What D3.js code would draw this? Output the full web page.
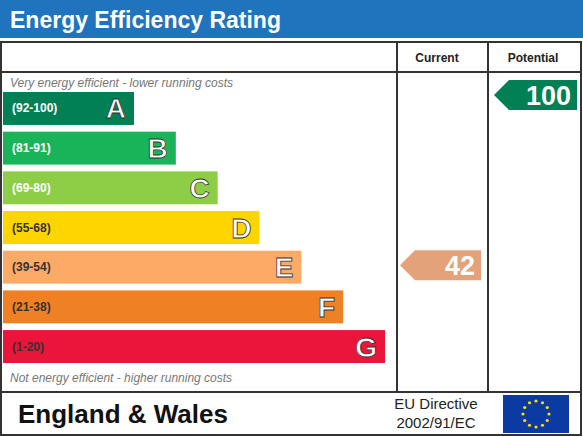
<!DOCTYPE html>
<html><head><meta charset="utf-8">
<script src="https://cdn.jsdelivr.net/npm/d3@7"></script>
<style>body{margin:0;background:#fff}svg{display:block}</style>
</head><body><div id="chart"></div>
<script>
// DATA
const bands = ['A', 'B', 'C', 'D', 'E', 'F', 'G'];
const ranges = ['(92-100)', '(81-91)', '(69-80)', '(55-68)', '(39-54)', '(21-38)', '(1-20)'];
const lows = [92, 81, 69, 55, 39, 21, 1];
const colors = ['#008054', '#19b459', '#8dce46', '#ffd500', '#fcaa65', '#ef8023', '#e9153b'];
const current = 42;
const potential = 100;

const W = 583, H = 437;
const svg = d3.select('#chart').append('svg').attr('width', W).attr('height', H);

// title bar
svg.append('rect').attr('x', 0).attr('y', 0).attr('width', W).attr('height', 38).attr('fill', '#1f74bd');
svg.append('text').attr('x', 10).attr('y', 28).attr('fill', '#fff')
    .attr('font-family', 'Liberation Sans, Arial').attr('font-weight', 'bold').attr('font-size', 23)
    .text('Energy Efficiency Rating');

// frame
const box = svg.append('g').attr('stroke', '#333').attr('stroke-width', 2).attr('fill', 'none');
box.append('rect').attr('x', 1).attr('y', 42).attr('width', 580).attr('height', 393);
box.append('line').attr('x1', 1).attr('x2', 581).attr('y1', 72).attr('y2', 72);
box.append('line').attr('x1', 1).attr('x2', 581).attr('y1', 392).attr('y2', 392);
box.append('line').attr('x1', 397).attr('x2', 397).attr('y1', 42).attr('y2', 392);
box.append('line').attr('x1', 488).attr('x2', 488).attr('y1', 42).attr('y2', 392);

const hdr = {'font-family': 'Liberation Sans, Arial', 'font-weight': 'bold', 'font-size': 12, 'text-anchor': 'middle', 'fill': '#222'};
const t1 = svg.append('text').attr('x', 437).attr('y', 62).text('Current');
const t2 = svg.append('text').attr('x', 533).attr('y', 62).text('Potential');
[t1, t2].forEach(t => Object.entries(hdr).forEach(([k, v]) => t.attr(k, v)));

// scales
const y = d3.scaleBand().domain(bands).range([92, 363]).paddingInner(0.17).paddingOuter(0);
const xw = d3.scaleLinear().domain([0, 6]).range([134, 385]);

svg.append('text').attr('x', 10).attr('y', 87).attr('font-family', 'Liberation Sans, Arial')
    .attr('font-style', 'italic').attr('font-size', 12).attr('fill', '#777')
    .text('Very energy efficient - lower running costs');
svg.append('text').attr('x', 10).attr('y', 382).attr('font-family', 'Liberation Sans, Arial')
    .attr('font-style', 'italic').attr('font-size', 12).attr('fill', '#777')
    .text('Not energy efficient - higher running costs');

const g = svg.selectAll('.band').data(bands).join('g').attr('class', 'band');
g.append('rect').attr('x', 3).attr('y', d => y(d))
    .attr('width', (d, i) => xw(i) - 3).attr('height', y.bandwidth())
    .attr('fill', (d, i) => colors[i]);
g.append('text').attr('x', 12).attr('y', d => y(d) + y.bandwidth() / 2 + 4)
    .attr('font-family', 'Liberation Sans, Arial').attr('font-size', 12).attr('font-weight', 'bold')
    .attr('fill', (d, i) => i < 3 ? '#fff' : '#333')
    .text((d, i) => ranges[i]);
g.append('text').attr('x', (d, i) => xw(i) - 8).attr('y', d => y(d) + y.bandwidth() / 2 + 10)
    .attr('text-anchor', 'end').attr('font-family', 'Liberation Sans, Arial').attr('font-weight', 'bold')
    .attr('font-size', 28).attr('fill', '#fff').attr('stroke', '#333').attr('stroke-width', 0.8)
    .text(d => d);

// rating arrows
function bandOf(v) { return lows.findIndex(l => v >= l); }
function arrow(v, x0, x1, yc, h, fill) {
    const p = d3.path();
    p.moveTo(x0, yc); p.lineTo(x0 + h / 2, yc - h / 2); p.lineTo(x1, yc - h / 2);
    p.lineTo(x1, yc + h / 2); p.lineTo(x0 + h / 2, yc + h / 2); p.closePath();
    svg.append('path').attr('d', p.toString()).attr('fill', fill);
    svg.append('text').attr('x', x1 - 6).attr('y', yc + 10).attr('text-anchor', 'end')
        .attr('font-family', 'Liberation Sans, Arial').attr('font-weight', 'bold')
        .attr('font-size', 27).attr('fill', '#fff').text(v);
}
const ci = bandOf(current), pi = bandOf(potential);
arrow(current, 400, 481, y(bands[ci]) + y.bandwidth() / 2 - 2, 30, '#e3a27a');
arrow(potential, 494, 577, 95, 30, colors[pi]);

// footer
svg.append('text').attr('x', 18).attr('y', 423).attr('font-family', 'Liberation Sans, Arial')
    .attr('font-weight', 'bold').attr('font-size', 26).attr('fill', '#111').text('England & Wales');
svg.append('text').attr('x', 436).attr('y', 409).attr('text-anchor', 'middle').attr('font-family', 'Liberation Sans, Arial')
    .attr('font-size', 15).attr('fill', '#222').text('EU Directive');
svg.append('text').attr('x', 436).attr('y', 428).attr('text-anchor', 'middle').attr('font-family', 'Liberation Sans, Arial')
    .attr('font-size', 15).attr('fill', '#222').text('2002/91/EC');
svg.append('rect').attr('x', 503).attr('y', 395).attr('width', 66).attr('height', 38).attr('fill', '#0c3aa3');
const stars = d3.range(12).map(i => i * Math.PI / 6);
svg.selectAll('.star').data(stars).join('circle').attr('class', 'star')
    .attr('cx', a => 536 + 13 * Math.cos(a)).attr('cy', a => 414 + 13 * Math.sin(a))
    .attr('r', 1.6).attr('fill', '#ffdd00');
</script></body></html>
